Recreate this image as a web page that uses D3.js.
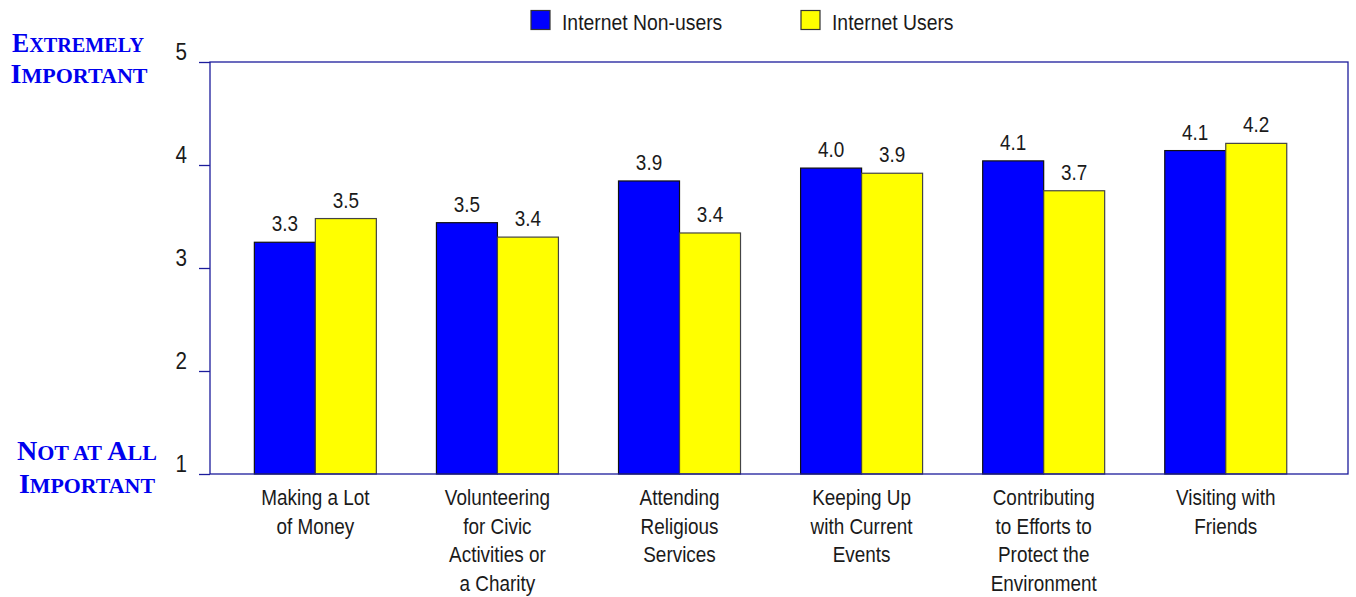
<!DOCTYPE html>
<html>
<head>
<meta charset="utf-8">
<script src="https://cdn.jsdelivr.net/npm/d3@7"></script>
<style>
  html, body { margin: 0; padding: 0; background: #fff; }
  svg { display: block; }
  .lbl { font-family: "Liberation Sans", Arial, sans-serif; fill: #1a1a1a;
         transform-box: fill-box; transform-origin: center; transform: scaleX(0.86); }
  .lbl.start { transform-origin: left center; transform: scaleX(0.88); }
  .lbl.end { transform-origin: right center; }
  .side { font-family: "Liberation Serif", "DejaVu Serif", serif; font-weight: bold; fill: #0000ee; }
</style>
</head>
<body>
<script>
// ---- data ----
const categories = [
  "Making a Lot\nof Money",
  "Volunteering\nfor Civic\nActivities or\na Charity",
  "Attending\nReligious\nServices",
  "Keeping Up\nwith Current\nEvents",
  "Contributing\nto Efforts to\nProtect the\nEnvironment",
  "Visiting with\nFriends"
];
const seriesNames = ["Internet Non-users", "Internet Users"];
const nonUsers = [3.25, 3.44, 3.845, 3.97, 4.04, 4.14];
const users    = [3.48, 3.30, 3.34, 3.92, 3.75, 4.21];
const nonUserLabels = ["3.3", "3.5", "3.9", "4.0", "4.1", "4.1"];
const userLabels    = ["3.5", "3.4", "3.4", "3.9", "3.7", "4.2"];
const yTicks = [1, 2, 3, 4, 5];
const colors = ["#0000ff", "#ffff00"];
const strokes = ["#111111", "#444444"];

(function () {
// ---- layout ----
const W = 1356, H = 597;
const pL = 210, pR = 1348, pT = 62, pB = 474;
const frameColor = "#1c1c9c";

const svg = d3.select("body").append("svg").attr("width", W).attr("height", H);

const y = d3.scaleLinear().domain([1, 5]).range([pB, pT]);
const x0 = d3.scaleBand().domain(categories).range([pL, pR])
  .paddingInner(0.33).paddingOuter(0.29).align(0.42);
const x1 = d3.scaleBand().domain(seriesNames).range([0, x0.bandwidth()]);

const values = [nonUsers, users];
const labels = [nonUserLabels, userLabels];

// bars
seriesNames.forEach((s, si) => {
  const data = categories.map((c, i) => ({ c, v: values[si][i], l: labels[si][i] }));
  svg.append("g").selectAll("rect")
    .data(data)
    .join("rect")
    .attr("x", d => x0(d.c) + x1(s))
    .attr("y", d => y(d.v))
    .attr("width", x1.bandwidth())
    .attr("height", d => y(1) - y(d.v))
    .attr("fill", colors[si])
    .attr("stroke", strokes[si])
    .attr("stroke-width", 1.2);

  svg.append("g").selectAll("text")
    .data(data)
    .join("text")
    .attr("class", "lbl")
    .attr("x", d => x0(d.c) + x1(s) + x1.bandwidth() / 2)
    .attr("y", d => y(d.v) - 11)
    .attr("text-anchor", "middle")
    .attr("font-size", 22)
    .text(d => d.l);
});

// frame
svg.append("rect").attr("x", pL).attr("y", pT)
  .attr("width", pR - pL).attr("height", pB - pT)
  .attr("fill", "none").attr("stroke", frameColor).attr("stroke-width", 1.3);

// y axis
const yAxis = d3.axisLeft(y).tickValues(yTicks).tickSize(11).tickFormat(d3.format("d"));
const ya = svg.append("g").attr("transform", `translate(${pL},0)`).call(yAxis);
ya.select(".domain").remove();
ya.attr("font-family", null).attr("font-size", null);
ya.selectAll(".tick line").attr("stroke", frameColor).attr("stroke-width", 1.3);
ya.selectAll(".tick text")
  .attr("class", "lbl end")
  .attr("font-size", 24)
  .attr("fill", null)
  .attr("x", -23)
  .attr("dy", "-0.12em");

// x labels
const xl = svg.append("g").selectAll("text").data(categories).join("text")
  .attr("class", "lbl")
  .attr("font-size", 22)
  .attr("text-anchor", "middle")
  .attr("x", d => x0(d) + x0.bandwidth() / 2)
  .attr("y", 505);
xl.each(function (d) {
  const t = d3.select(this);
  d.split("\n").forEach((line, i) => {
    t.append("tspan").attr("x", x0(d) + x0.bandwidth() / 2)
      .attr("dy", i === 0 ? 0 : 28.7).text(line);
  });
});

// legend
const legendX = [531, 801];
seriesNames.forEach((s, i) => {
  svg.append("rect").attr("x", legendX[i]).attr("y", 10.5)
    .attr("width", 19).attr("height", 19)
    .attr("fill", colors[i]).attr("stroke", "#333").attr("stroke-width", 1.2);
  svg.append("text").attr("class", "lbl start").attr("font-size", 22)
    .attr("x", legendX[i] + 31).attr("y", 30).text(s);
});

// side labels (small caps)
function smallCaps(xc, yb, word, len) {
  const t = svg.append("text").attr("class", "side")
    .attr("x", xc).attr("y", yb).attr("text-anchor", "middle")
    .attr("textLength", len).attr("lengthAdjust", "spacingAndGlyphs");
  word.split(" ").forEach((w, wi) => {
    const prefix = wi > 0 ? " " : "";
    const isCap = w[0] === w[0].toUpperCase();
    t.append("tspan").attr("font-size", isCap ? 28 : 22).text(prefix + (isCap ? w[0] : w[0].toUpperCase()));
    t.append("tspan").attr("font-size", 22).text(w.slice(1).toUpperCase());
  });
}
smallCaps(78, 51.5, "Extremely", 132);
smallCaps(79, 82.5, "Important", 137);
smallCaps(87, 460, "Not at All", 140);
smallCaps(87, 492.5, "Important", 136);
})();
</script>
</body>
</html>
